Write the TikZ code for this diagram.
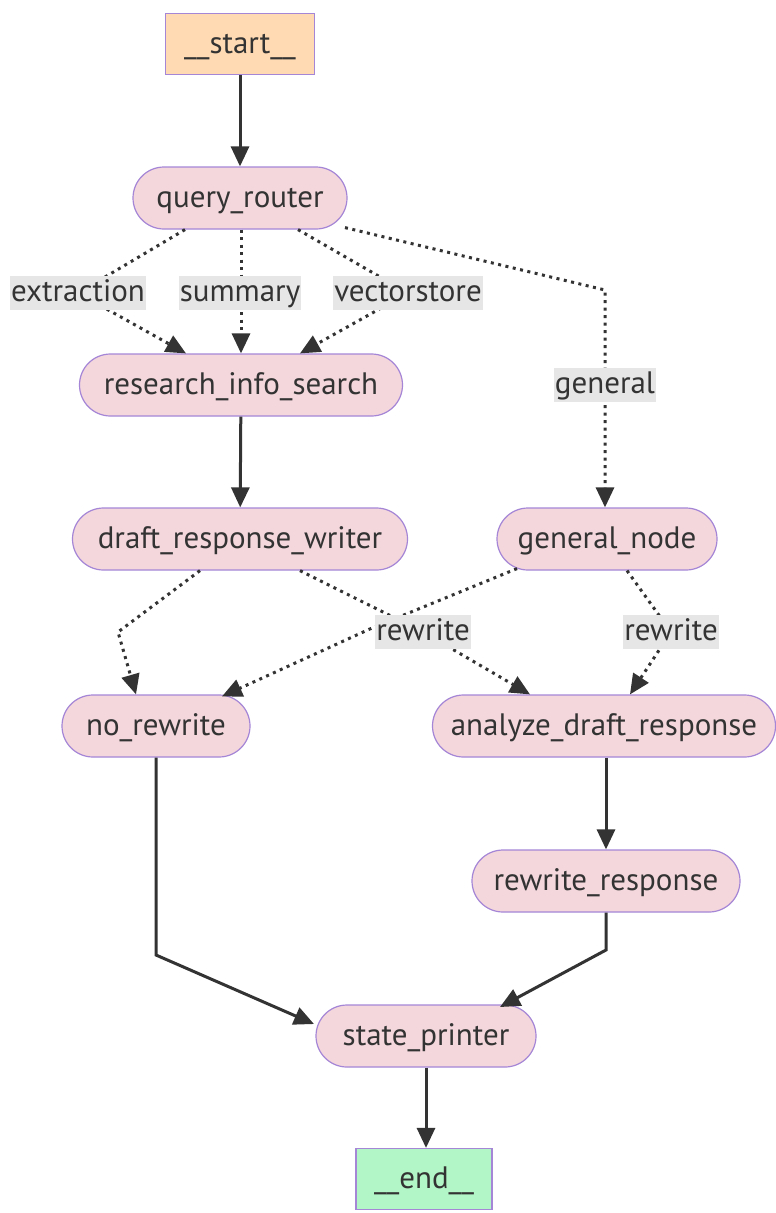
\documentclass[tikz,border=0pt]{standalone}
\usepackage{fontspec}
\setmainfont{PT Sans}
\usetikzlibrary{arrows.meta}

\definecolor{nodepink}{HTML}{F3D7DC}
\definecolor{nodeedge}{HTML}{A585D6}
\definecolor{startfill}{HTML}{FFDAB2}
\definecolor{endfill}{HTML}{B2F5C6}
\definecolor{labelgrey}{HTML}{E6E6E6}
\definecolor{inkdark}{HTML}{333333}

\tikzset{
  stepnode/.style={draw=nodeedge, line width=1.2pt, fill=nodepink, rounded corners=31pt,
    minimum height=62pt, inner sep=0pt, text=inkdark, text height=25pt, text depth=6pt,
    font=\fontsize{31}{36}\selectfont},
  termnode/.style={draw=nodeedge, line width=1.2pt, minimum height=61pt, inner sep=0pt,
    text=inkdark, text height=25pt, text depth=6pt, font=\fontsize{31}{36}\selectfont},
  flowline/.style={draw=inkdark, line width=3pt, -{Triangle[length=20pt,width=18pt]}},
  flowdot/.style={flowline, dash pattern=on 3pt off 4.5pt},
  edgelabel/.style={fill=labelgrey, inner xsep=1pt, inner ysep=1.5pt, text=inkdark,
    text height=24pt, text depth=7pt, font=\fontsize{31}{36}\selectfont},
}

\begin{document}
\begin{tikzpicture}[x=1pt, y=-1pt]
  \useasboundingbox (0,0) rectangle (776,1213);
  % draw graph nodes
  \node[termnode, fill=startfill, minimum width=149pt] (start_node) at (240,44) {\_\_start\_\_};
  \node[stepnode, minimum width=214pt] (query_router) at (240,198) {query\_router};
  \node[stepnode, minimum width=323pt] (research_info_search) at (241,385) {research\_info\_search};
  \node[stepnode, minimum width=335pt] (draft_response_writer) at (240,539) {draft\_response\_writer};
  \node[stepnode, minimum width=220pt] (general_node) at (607,539) {general\_node};
  \node[stepnode, minimum width=188pt] (no_rewrite) at (156,726) {no\_rewrite};
  \node[stepnode, minimum width=343pt] (analyze_draft_response) at (604,726) {analyze\_draft\_response};
  \node[stepnode, minimum width=268pt] (rewrite_response) at (606,881) {rewrite\_response};
  \node[stepnode, minimum width=220pt] (state_printer) at (426,1036) {state\_printer};
  \node[termnode, fill=endfill, minimum width=136pt] (end_node) at (424,1179) {\_\_end\_\_};
  % bend points of the routed edges
  \coordinate (extraction_bend) at (78,293);
  \coordinate (vectorstore_bend) at (408,293);
  \coordinate (general_bend) at (605,290);
  \coordinate (plain_bend) at (118,632);
  \coordinate (cross_bend) at (372,628);
  \coordinate (rewrite_left_bend) at (423,632);
  \coordinate (rewrite_right_bend) at (671,632);
  \coordinate (left_drop) at (156,955);
  \coordinate (right_drop) at (606,950);
  % draw solid edges
  \draw[flowline] (start_node) -- (query_router);
  \draw[flowline] (research_info_search) -- (draft_response_writer);
  \draw[flowline] (analyze_draft_response.south -| rewrite_response.north) -- (rewrite_response);
  \draw[flowline] (state_printer) -- (end_node.north -| state_printer.south);
  \draw[flowline] (no_rewrite.south) -- (left_drop) -- ([shift={(-112pt,12pt)}]state_printer.center);
  \draw[flowline] (rewrite_response.south) -- (right_drop) -- ([shift={(74pt,29pt)}]state_printer.center);
  % draw dotted conditional edges
  \draw[flowdot] ([xshift=-55pt]query_router.south) -- (extraction_bend) -- ([xshift=-55pt]research_info_search.north);
  \draw[flowdot] (query_router.south -| research_info_search.north) -- (research_info_search.north);
  \draw[flowdot] ([xshift=58pt]query_router.south) -- (vectorstore_bend) -- ([xshift=59pt]research_info_search.north);
  \draw[flowdot] ([shift={(105pt,2pt)}]query_router.south) -- (general_bend) -- (general_node.north -| general_bend);
  \draw[flowdot] ([xshift=-40pt]draft_response_writer.south) -- (plain_bend) -- ([xshift=-20pt]no_rewrite.north);
  \draw[flowdot] ([shift={(-90pt,2pt)}]general_node.south) -- (cross_bend) -- ([shift={(66pt,-2pt)}]no_rewrite.north);
  \draw[flowdot] ([xshift=60pt]draft_response_writer.south) -- (rewrite_left_bend) -- ([xshift=-74pt]analyze_draft_response.north);
  \draw[flowdot] ([xshift=20pt]general_node.south) -- (rewrite_right_bend) -- ([xshift=26pt]analyze_draft_response.north);
  % draw edge labels
  \node[edgelabel] (extraction_label) at (extraction_bend) {extraction};
  \node[edgelabel] (summary_label) at (240,293) {summary};
  \node[edgelabel] (vectorstore_label) at (vectorstore_bend) {vectorstore};
  \node[edgelabel] (general_label) at (605,385) {general};
  \node[edgelabel] (rewrite_left_label) at (rewrite_left_bend) {rewrite};
  \node[edgelabel] (rewrite_right_label) at (rewrite_right_bend) {rewrite};
\end{tikzpicture}
\end{document}
